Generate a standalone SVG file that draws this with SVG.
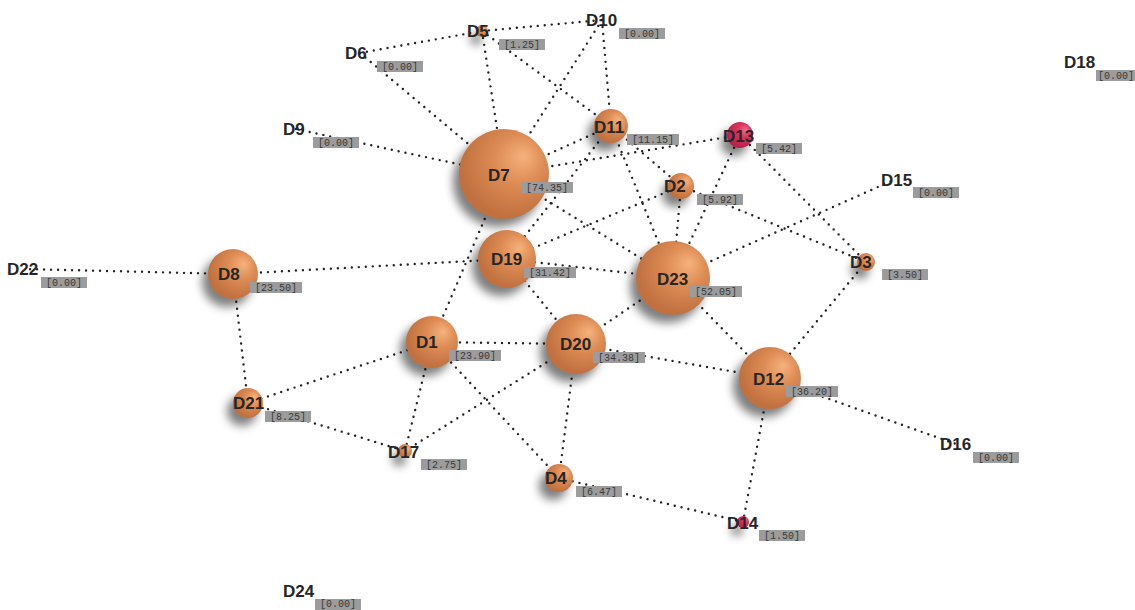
<svg xmlns="http://www.w3.org/2000/svg" width="1135" height="610" viewBox="0 0 1135 610">
<defs>
<radialGradient id="orange" cx="0.62" cy="0.38" r="0.6" fx="0.72" fy="0.3">
<stop offset="0" stop-color="#f6b27c"/>
<stop offset="0.45" stop-color="#de8c55"/>
<stop offset="1" stop-color="#c0713f"/>
</radialGradient>
<radialGradient id="red" cx="0.62" cy="0.38" r="0.6" fx="0.72" fy="0.3">
<stop offset="0" stop-color="#ef6a8a"/>
<stop offset="0.45" stop-color="#d8355e"/>
<stop offset="1" stop-color="#b8224a"/>
</radialGradient>
<filter id="blur" x="-100%" y="-100%" width="300%" height="300%">
<feGaussianBlur stdDeviation="5"/>
</filter>
</defs>
<style>
.edge{stroke:#222;stroke-width:2.4;stroke-dasharray:0 7;stroke-linecap:round;fill:none}
.sh{fill:#000;opacity:0.5;filter:url(#blur)}
.lbl{font-family:"Liberation Sans",Arial,sans-serif;font-weight:bold;font-size:17px;fill:#262626}
.box{fill:#9c9c9c}
.val{font-family:"Liberation Mono","Courier New",monospace;font-size:10px;fill:#3a3a3a}
</style>
<rect width="1135" height="610" fill="#fff"/>
<g id="connectors">
<line class="edge" x1="360" y1="53" x2="482" y2="31"/>
<line class="edge" x1="482" y1="31" x2="602" y2="20"/>
<line class="edge" x1="360" y1="53" x2="504" y2="174"/>
<line class="edge" x1="482" y1="31" x2="504" y2="174"/>
<line class="edge" x1="482" y1="31" x2="611" y2="126"/>
<line class="edge" x1="602" y1="20" x2="504" y2="174"/>
<line class="edge" x1="602" y1="20" x2="611" y2="126"/>
<line class="edge" x1="296" y1="129" x2="504" y2="174"/>
<line class="edge" x1="504" y1="174" x2="611" y2="126"/>
<line class="edge" x1="504" y1="174" x2="740" y2="135"/>
<line class="edge" x1="611" y1="126" x2="507" y2="259"/>
<line class="edge" x1="611" y1="126" x2="673" y2="278"/>
<line class="edge" x1="611" y1="126" x2="681" y2="186"/>
<line class="edge" x1="740" y1="135" x2="673" y2="278"/>
<line class="edge" x1="740" y1="135" x2="866" y2="262"/>
<line class="edge" x1="681" y1="186" x2="866" y2="262"/>
<line class="edge" x1="681" y1="186" x2="673" y2="278"/>
<line class="edge" x1="681" y1="186" x2="507" y2="259"/>
<line class="edge" x1="673" y1="278" x2="896" y2="179"/>
<line class="edge" x1="866" y1="262" x2="770" y2="378"/>
<line class="edge" x1="673" y1="278" x2="770" y2="378"/>
<line class="edge" x1="576" y1="344" x2="770" y2="378"/>
<line class="edge" x1="770" y1="378" x2="956" y2="444"/>
<line class="edge" x1="770" y1="378" x2="743" y2="522"/>
<line class="edge" x1="559" y1="478" x2="743" y2="522"/>
<line class="edge" x1="576" y1="344" x2="559" y2="478"/>
<line class="edge" x1="432" y1="342" x2="559" y2="478"/>
<line class="edge" x1="576" y1="344" x2="405" y2="451"/>
<line class="edge" x1="432" y1="342" x2="405" y2="451"/>
<line class="edge" x1="432" y1="342" x2="576" y2="344"/>
<line class="edge" x1="248" y1="403" x2="432" y2="342"/>
<line class="edge" x1="248" y1="403" x2="405" y2="451"/>
<line class="edge" x1="233" y1="274" x2="248" y2="403"/>
<line class="edge" x1="233" y1="274" x2="24" y2="269"/>
<line class="edge" x1="233" y1="274" x2="507" y2="259"/>
<line class="edge" x1="504" y1="174" x2="432" y2="342"/>
<line class="edge" x1="507" y1="259" x2="673" y2="278"/>
<line class="edge" x1="576" y1="344" x2="673" y2="278"/>
<line class="edge" x1="504" y1="174" x2="673" y2="278"/>
<line class="edge" x1="507" y1="259" x2="576" y2="344"/>
</g>
<g id="D7"><circle class="sh" cx="498" cy="182" r="45"/><circle cx="504" cy="174" r="45" fill="url(#orange)"/><text class="lbl" x="488" y="181">D7</text><rect class="box" x="521" y="182" width="52" height="11"/><text class="val" x="526" y="191">[74.35]</text></g>
<g id="D19"><circle class="sh" cx="501" cy="267" r="29"/><circle cx="507" cy="259" r="29" fill="url(#orange)"/><text class="lbl" x="491" y="265">D19</text><rect class="box" x="524" y="267" width="52" height="11"/><text class="val" x="529" y="276">[31.42]</text></g>
<g id="D23"><circle class="sh" cx="667" cy="286" r="37"/><circle cx="673" cy="278" r="37" fill="url(#orange)"/><text class="lbl" x="657" y="285">D23</text><rect class="box" x="690" y="286" width="52" height="11"/><text class="val" x="695" y="295">[52.05]</text></g>
<g id="D20"><circle class="sh" cx="570" cy="352" r="30"/><circle cx="576" cy="344" r="30" fill="url(#orange)"/><text class="lbl" x="560" y="350">D20</text><rect class="box" x="593" y="352" width="52" height="11"/><text class="val" x="598" y="361">[34.38]</text></g>
<g id="D1"><circle class="sh" cx="426" cy="350" r="26"/><circle cx="432" cy="342" r="26" fill="url(#orange)"/><text class="lbl" x="416" y="348">D1</text><rect class="box" x="449" y="350" width="52" height="11"/><text class="val" x="454" y="359">[23.90]</text></g>
<g id="D8"><circle class="sh" cx="227" cy="282" r="25"/><circle cx="233" cy="274" r="25" fill="url(#orange)"/><text class="lbl" x="218" y="280">D8</text><rect class="box" x="250" y="282" width="52" height="11"/><text class="val" x="255" y="291">[23.50]</text></g>
<g id="D12"><circle class="sh" cx="764" cy="386" r="31"/><circle cx="770" cy="378" r="31" fill="url(#orange)"/><text class="lbl" x="753" y="385">D12</text><rect class="box" x="786" y="386" width="52" height="11"/><text class="val" x="791" y="395">[36.20]</text></g>
<g id="D21"><circle class="sh" cx="242" cy="411" r="15"/><circle cx="248" cy="403" r="15" fill="url(#orange)"/><text class="lbl" x="233" y="409">D21</text><rect class="box" x="265" y="411" width="46" height="11"/><text class="val" x="270" y="420">[8.25]</text></g>
<g id="D17"><circle class="sh" cx="399" cy="459" r="7"/><circle cx="405" cy="451" r="7" fill="url(#orange)"/><text class="lbl" x="388" y="458">D17</text><rect class="box" x="421" y="459" width="46" height="11"/><text class="val" x="426" y="468">[2.75]</text></g>
<g id="D4"><circle class="sh" cx="553" cy="486" r="14"/><circle cx="559" cy="478" r="14" fill="url(#orange)"/><text class="lbl" x="545" y="484">D4</text><rect class="box" x="576" y="486" width="46" height="11"/><text class="val" x="581" y="495">[6.47]</text></g>
<g id="D14"><circle class="sh" cx="737" cy="530" r="6"/><circle cx="743" cy="522" r="6" fill="url(#red)"/><text class="lbl" x="727" y="529">D14</text><rect class="box" x="759" y="530" width="46" height="11"/><text class="val" x="764" y="539">[1.50]</text></g>
<g id="D11"><circle class="sh" cx="605" cy="134" r="17"/><circle cx="611" cy="126" r="17" fill="url(#orange)"/><text class="lbl" x="594" y="133">D11</text><rect class="box" x="627" y="134" width="52" height="11"/><text class="val" x="632" y="143">[11.15]</text></g>
<g id="D13"><circle class="sh" cx="734" cy="143" r="13"/><circle cx="740" cy="135" r="13" fill="url(#red)"/><text class="lbl" x="723" y="142">D13</text><rect class="box" x="756" y="143" width="46" height="11"/><text class="val" x="761" y="152">[5.42]</text></g>
<g id="D2"><circle class="sh" cx="675" cy="194" r="13"/><circle cx="681" cy="186" r="13" fill="url(#orange)"/><text class="lbl" x="664" y="192">D2</text><rect class="box" x="697" y="194" width="46" height="11"/><text class="val" x="702" y="203">[5.92]</text></g>
<g id="D3"><circle class="sh" cx="860" cy="270" r="9"/><circle cx="866" cy="262" r="9" fill="url(#orange)"/><text class="lbl" x="850" y="268">D3</text><rect class="box" x="882" y="269" width="46" height="11"/><text class="val" x="887" y="278">[3.50]</text></g>
<g id="D5"><circle class="sh" cx="476" cy="39" r="6"/><circle cx="482" cy="31" r="6" fill="url(#orange)"/><text class="lbl" x="467" y="37">D5</text><rect class="box" x="499" y="39" width="46" height="11"/><text class="val" x="504" y="48">[1.25]</text></g>
<g id="D10"><text class="lbl" x="586" y="26">D10</text><rect class="box" x="619" y="28" width="46" height="11"/><text class="val" x="624" y="37">[0.00]</text></g>
<g id="D6"><text class="lbl" x="345" y="59">D6</text><rect class="box" x="377" y="61" width="46" height="11"/><text class="val" x="382" y="70">[0.00]</text></g>
<g id="D9"><text class="lbl" x="283" y="135">D9</text><rect class="box" x="313" y="137" width="46" height="11"/><text class="val" x="318" y="146">[0.00]</text></g>
<g id="D15"><text class="lbl" x="881" y="186">D15</text><rect class="box" x="913" y="187" width="46" height="11"/><text class="val" x="918" y="196">[0.00]</text></g>
<g id="D16"><text class="lbl" x="940" y="450">D16</text><rect class="box" x="973" y="452" width="46" height="11"/><text class="val" x="978" y="461">[0.00]</text></g>
<g id="D18"><text class="lbl" x="1064" y="68">D18</text><rect class="box" x="1096" y="70" width="39" height="11"/><text class="val" x="1098" y="79">[0.00]</text></g>
<g id="D22"><text class="lbl" x="7" y="275">D22</text><rect class="box" x="41" y="277" width="46" height="11"/><text class="val" x="46" y="286">[0.00]</text></g>
<g id="D24"><text class="lbl" x="283" y="597">D24</text><rect class="box" x="315" y="599" width="46" height="11"/><text class="val" x="320" y="607">[0.00]</text></g>
</svg>
